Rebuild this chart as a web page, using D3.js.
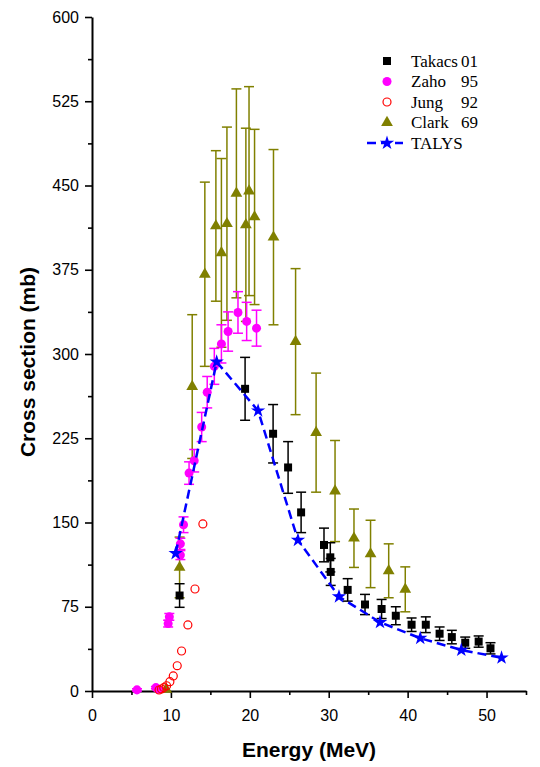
<!DOCTYPE html>
<html><head><meta charset="utf-8">
<script src="https://cdn.jsdelivr.net/npm/d3@7"></script>
<style>body{margin:0;background:#fff}</style>
</head><body>
<svg id="c" width="540" height="767"></svg>
<script>
// ---- data ----
const takacsE   = [11.1, 19.4, 22.95, 24.85, 26.5, 29.4, 30.2, 30.25, 32.4, 34.6, 36.7, 38.5, 40.5, 42.3, 44.05, 45.6, 47.3, 49.0, 50.5];
const takacsY   = [85, 269, 229, 199, 159, 130, 119, 106, 90, 77, 73, 67, 59, 59, 51, 48, 43, 44, 38];
const takacsErr = [10.5, 28, 26, 23, 18, 15, 13, 12, 10, 9, 8.5, 8, 6, 7, 6, 6, 5, 5, 5];

const zahoE   = [5.7, 8.1, 8.4, 9.65, 9.8, 11.2, 11.2, 11.6, 12.3, 12.95, 13.9, 14.6, 15.5, 16.4, 17.25, 18.5, 19.6, 20.85];
const zahoY   = [1, 3, 1.5, 60, 66, 121, 131, 148, 194, 205, 235, 266, 289, 309, 320, 337, 329, 323];
const zahoErr = [1, 1, 1, 3, 3, 4, 5, 7, 10, 10, 13, 14, 16, 17, 17.5, 18.5, 17, 16];

const jungE = [8.5, 8.8, 9.1, 9.45, 9.87, 10.3, 10.8, 11.35, 12.15, 13.05, 14.05];
const jungY = [0.9, 1.8, 3, 4.7, 8.3, 13.4, 22.5, 35.6, 58.8, 90.8, 148.7];

const clarkE   = [9.4, 11.1, 12.7, 14.3, 15.7, 16.4, 17.1, 18.3, 19.5, 19.9, 20.6, 23.0, 25.8, 28.4, 30.8, 33.2, 35.3, 37.6, 39.7];
const clarkY   = [1.5, 110, 271, 371, 414, 390, 416, 443, 415, 445, 422, 404, 311, 230, 178, 136, 122, 107, 90.5];
const clarkErr = [0, 27, 64, 82, 67, 84, 86, 93, 86, 93, 78, 78, 65, 53, 45, 26, 30, 24, 20];

const talysE = [10.6, 15.8, 21.05, 26.1, 31.3, 36.5, 41.6, 46.8, 51.9];
const talysY = [122.5, 293, 249.5, 134.4, 84, 61.2, 47, 36.5, 29.6];

const yTicks = [0, 75, 150, 225, 300, 375, 450, 525, 600];
const xTicks = [0, 10, 20, 30, 40, 50];
const legendNames = ["Takacs", "Zaho", "Jung", "Clark", "TALYS"];
const legendYears = ["01", "95", "92", "69", ""];

// ---- chart ----
const svg = d3.select('#c');
const x = d3.scaleLinear().domain([0, 55]).range([92, 526]);
const y = d3.scaleLinear().domain([0, 600]).range([691, 17]);
const sans = "'Liberation Sans', Arial, sans-serif";
const serif = "'Liberation Serif', 'Times New Roman', serif";

// axes
const ya = svg.append('g').attr('transform', `translate(${x(0)},0)`)
  .call(d3.axisLeft(y).tickValues(yTicks).tickSize(7).tickSizeOuter(0).tickPadding(6));
const yminor = svg.append('g').attr('transform', `translate(${x(0)},0)`)
  .call(d3.axisLeft(y).tickValues(yTicks.slice(0, -1).map(v => v + 37.5)).tickSize(4).tickFormat(''));
const xa = svg.append('g').attr('transform', `translate(0,${y(0)})`)
  .call(d3.axisBottom(x).tickValues(xTicks).tickSize(7).tickSizeOuter(0).tickPadding(12));
const xminor = svg.append('g').attr('transform', `translate(0,${y(0)})`)
  .call(d3.axisBottom(x).tickValues(xTicks.map(v => v + 5)).tickSize(4).tickFormat(''));
yminor.select('.domain').remove();
xminor.select('.domain').remove();
[ya, xa, yminor, xminor].forEach(g => {
  g.selectAll('path,line').attr('stroke', '#000').attr('stroke-width', 1.6);
  g.selectAll('text').attr('font-family', sans).attr('font-size', 16).attr('fill', '#000');
});
ya.select('.domain').attr('stroke-width', 2);
xa.select('.domain').attr('stroke-width', 2);

svg.append('text').attr('x', 309).attr('y', 757).attr('text-anchor', 'middle')
  .attr('font-family', sans).attr('font-weight', 'bold').attr('font-size', 21).text('Energy (MeV)');
svg.append('text').attr('transform', `translate(35,362) rotate(-90)`)
  .attr('text-anchor', 'middle').attr('font-family', sans).attr('font-weight', 'bold')
  .attr('font-size', 21).text('Cross section (mb)');

// error bars helper
function errBars(E, V, Er, color) {
  const g = svg.append('g').attr('stroke', color).attr('stroke-width', 1.5).attr('fill', 'none');
  E.forEach((e, i) => {
    if (!Er[i]) return;
    const cx = x(e), y1 = y(V[i] - Er[i]), y2 = y(V[i] + Er[i]);
    g.append('line').attr('x1', cx).attr('x2', cx).attr('y1', y1).attr('y2', y2);
    g.append('line').attr('x1', cx - 5).attr('x2', cx + 5).attr('y1', y1).attr('y2', y1);
    g.append('line').attr('x1', cx - 5).attr('x2', cx + 5).attr('y1', y2).attr('y2', y2);
  });
}
function symbols(E, V, type, size, fill, stroke, sw) {
  svg.append('g').selectAll('path').data(E).join('path')
    .attr('transform', (e, i) => `translate(${x(e)},${y(V[i])})`)
    .attr('d', d3.symbol().type(type).size(size))
    .attr('fill', fill).attr('stroke', stroke || 'none').attr('stroke-width', sw || 0);
}

const olive = '#808000', mag = '#ff00ff', red = '#ff0000', blue = '#0000ff';

errBars(clarkE, clarkY, clarkErr, olive);
symbols(clarkE, clarkY, d3.symbolTriangle, 60, olive);
errBars(zahoE, zahoY, zahoErr, mag);
symbols(zahoE, zahoY, d3.symbolCircle, 64, mag);
symbols(jungE, jungY, d3.symbolCircle, 50, 'none', red, 1.2);
errBars(takacsE, takacsY, takacsErr, '#000');
symbols(takacsE, takacsY, d3.symbolSquare, 64, '#000');

// TALYS
const line = d3.line().x(d => x(d[0])).y(d => y(d[1]));
svg.append('path').datum(talysE.map((e, i) => [e, talysY[i]]))
  .attr('d', line).attr('fill', 'none').attr('stroke', blue).attr('stroke-width', 2.5)
  .attr('stroke-dasharray', '9,5');
symbols(talysE, talysY, d3.symbolStar, 64, blue);

// legend
const lx = 387, ly0 = 61, ldy = 20.5;
const lg = svg.append('g');
legendNames.forEach((n, i) => {
  const cy = ly0 + i * ldy;
  const t = lg.append('g').attr('transform', `translate(${lx},${cy})`);
  if (i === 0) t.append('path').attr('d', d3.symbol().type(d3.symbolSquare).size(64)()).attr('fill', '#000');
  if (i === 1) t.append('path').attr('d', d3.symbol().type(d3.symbolCircle).size(64)()).attr('fill', mag);
  if (i === 2) t.append('path').attr('d', d3.symbol().type(d3.symbolCircle).size(50)()).attr('fill', 'none').attr('stroke', red).attr('stroke-width', 1.2);
  if (i === 3) t.append('path').attr('d', d3.symbol().type(d3.symbolTriangle).size(60)()).attr('fill', olive);
  if (i === 4) {
    t.append('line').attr('x1', -20).attr('x2', 16).attr('stroke', blue).attr('stroke-width', 2.5).attr('stroke-dasharray', '9,5');
    t.append('path').attr('d', d3.symbol().type(d3.symbolStar).size(64)()).attr('fill', blue);
  }
  lg.append('text').attr('x', 411).attr('y', cy + 5.5).attr('font-family', serif).attr('font-size', 17).text(n);
  if (legendYears[i]) lg.append('text').attr('x', 461).attr('y', cy + 5.5).attr('font-family', serif).attr('font-size', 17).text(legendYears[i]);
});
</script>
</body></html>
